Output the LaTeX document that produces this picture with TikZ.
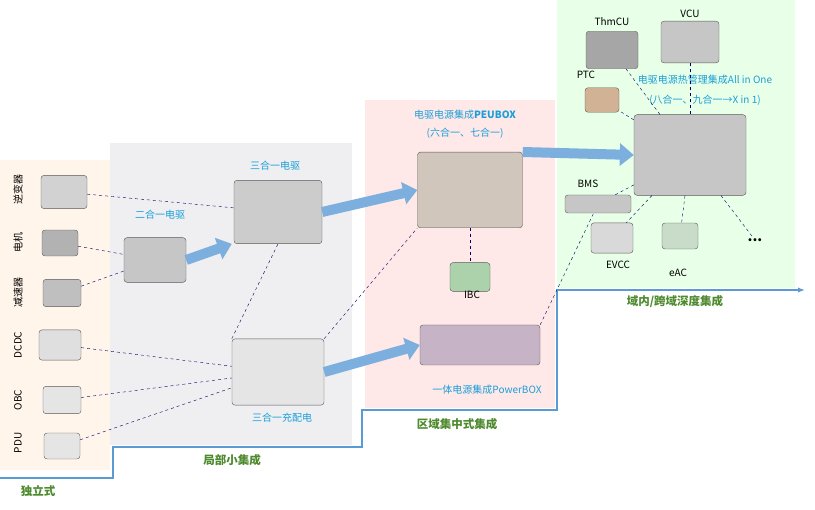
\documentclass[tikz,border=0pt]{standalone}
\usepackage{fontspec}
\setmainfont{Noto Sans CJK SC}
\usetikzlibrary{arrows.meta}
\definecolor{cyanT}{HTML}{1A9FD8}
\definecolor{greenT}{HTML}{4E8A2E}
\definecolor{stair}{HTML}{5B9BD5}
\definecolor{bigArrow}{HTML}{5B9BD5}
\tikzset{
 dev/.style={draw=gray!70!black, fill=gray!35, rounded corners=3pt, minimum width=#1, minimum height=0.72*#1},
 dev/.default=40pt,
 lbl/.style={font=\fontsize{10}{11}\selectfont, text=cyanT, inner sep=1pt},
 blk/.style={font=\fontsize{10}{11}\selectfont, inner sep=1pt},
 vlbl/.style={font=\fontsize{10}{11}\selectfont, rotate=90, inner sep=1pt},
 stage/.style={font=\bfseries\fontsize{11.5}{13}\selectfont, text=greenT, inner sep=1pt},
 dsh/.style={dashed, draw=blue!40!black, thin},
 big/.style={-{Triangle[length=14pt,width=22pt]}, line width=10pt, draw=bigArrow!80},
}
\begin{document}
\begin{tikzpicture}[x=1pt,y=-1pt]
\useasboundingbox (0,0) rectangle (815,510);
\fill[white] (0,0) rectangle (815,510);
% panels
\fill[orange!8] (0,160) rectangle (110,470);
\fill[blue!6!gray!12] (110,143) rectangle (352,445);
\fill[red!9] (365,100) rectangle (555,408);
\fill[green!9] (557,0) rectangle (795,288);
% stair
\draw[stair, line width=1.6pt, -{Latex[length=7pt]}] (0,478) -- (113,478) -- (113,447) -- (362,447) -- (362,410) -- (557,410) -- (557,290) -- (805,290);
\node[stage] (s1) at (38,491) {独立式};
\node[stage] (s2) at (232,460) {局部小集成};
\node[stage] (s3) at (457,424) {区域集中式集成};
\node[stage] (s4) at (675,302) {域内/跨域深度集成};
% left column
\node[vlbl] (t1) at (18,190) {逆变器};
\node[vlbl] (t2) at (18,243) {电机};
\node[vlbl] (t3) at (18,293) {减速器};
\node[vlbl] (t4) at (18,345) {DCDC};
\node[vlbl] (t5) at (18,400) {OBC};
\node[vlbl] (t6) at (18,443) {PDU};
\node[dev=46pt] (inv) at (64,192) {};
\node[dev=36pt, fill=gray!60] (mot) at (60,243) {};
\node[dev=38pt, fill=gray!50] (red) at (62,293) {};
\node[dev=42pt, fill=gray!25] (dcdc) at (60,345) {};
\node[dev=38pt, fill=gray!20] (obc) at (62,400) {};
\node[dev=36pt, fill=gray!20] (pdu) at (62,446) {};
% middle
\node[lbl] (l2) at (160,215) {二合一电驱};
\node[dev=62pt, fill=gray!45] (two) at (155,260) {};
\node[lbl] (l3) at (275,166) {三合一电驱};
\node[dev=88pt, fill=gray!40] (three) at (278,212) {};
\node[dev=92pt, fill=gray!20] (chg) at (278,372) {};
\node[lbl] (l4) at (282,418) {三合一充配电};
% pink
\node[lbl] (l5) at (465,115) {电驱电源集成\textbf{PEUBOX}};
\node[lbl] (l6) at (465,133) {(六合一、七合一)};
\node[dev=105pt, fill=brown!35!gray!45] (peu) at (470,190) {};
\node[dev=40pt, fill=green!30!gray!50] (ibc) at (470,277) {};
\node[blk] (l7) at (472,295) {IBC};
\node[dev=120pt, minimum height=40pt, fill=violet!30!gray!45] (pwr) at (480,345) {};
\node[lbl] (l8) at (487,390) {一体电源集成PowerBOX};
% green
\node[blk] (lt) at (612,22) {ThmCU};
\node[dev=52pt, fill=gray!70] (thm) at (612,50) {};
\node[blk] (lv) at (690,14) {VCU};
\node[dev=58pt, fill=gray!45] (vcu) at (690,42) {};
\node[blk] (lp) at (586,75) {PTC};
\node[dev=34pt, fill=orange!40!gray!60] (ptc) at (602,100) {};
\node[lbl] (l9) at (705,80) {电驱电源热管理集成All in One};
\node[lbl] (l10) at (705,100) {(八合一、九合一→X in 1)};
\node[dev=112pt, fill=gray!45] (aio) at (690,155) {};
\node[blk] (lb) at (588,184) {BMS};
\node[dev=66pt, minimum height=18pt, fill=gray!45] (bms) at (598,204) {};
\node[dev=42pt, fill=gray!30] (evcc) at (612,238) {};
\node[blk] (le) at (618,265) {EVCC};
\node[dev=36pt, fill=green!20!gray!35] (eac) at (680,236) {};
\node[blk] (la) at (678,273) {eAC};
\node[font=\bfseries\fontsize{14}{14}\selectfont, inner sep=1pt] (dots) at (755,240) {...};
% dashed connectors
\draw[dsh] (inv) -- (three);
\draw[dsh] (mot) -- (two);
\draw[dsh] (red) -- (two);
\draw[dsh] (dcdc) -- (chg);
\draw[dsh] (obc) -- (chg);
\draw[dsh] (pdu) -- (chg);
\draw[dsh] (chg.north west) -- (three.south);
\draw[dsh] (chg.north east) -- (peu.south west);
\draw[dsh] (peu) -- (ibc);
\draw[dsh] (pwr.north east) -- (bms);
\foreach \t in {thm,vcu,ptc,bms,evcc,eac,dots} \draw[dsh] (aio) -- (\t);
% big arrows
\draw[big] (two.east) -- ([xshift=-2pt]three.south west);
\draw[big] (three.east) -- (peu.west);
\draw[big] (chg.east) -- (pwr.west);
\draw[big] (peu.north east) -- (aio.west);
\end{tikzpicture}
\end{document}
